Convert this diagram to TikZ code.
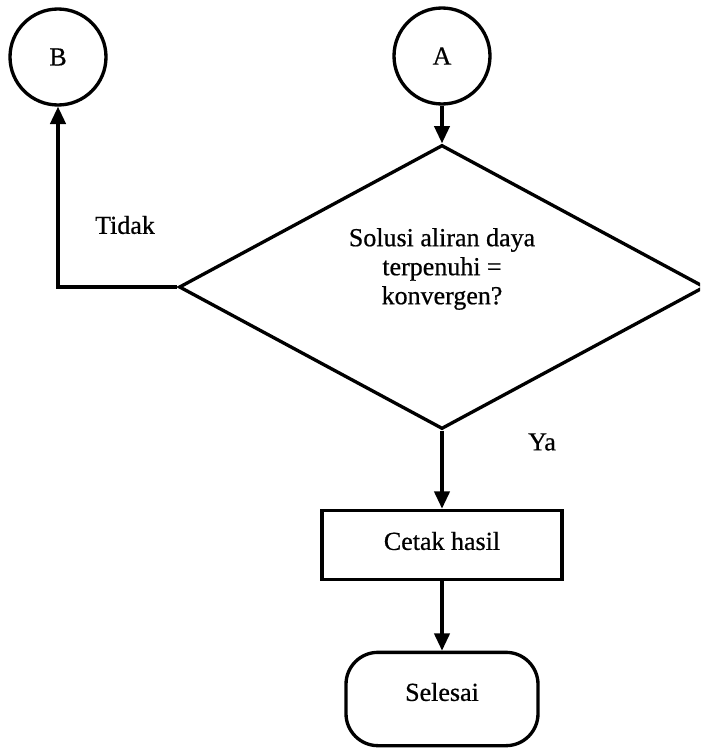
\documentclass[tikz,border=0pt]{standalone}
\usepackage{fontspec}
\setmainfont{Liberation Serif}[FakeBold=0.6]
\usetikzlibrary{shapes.geometric,arrows.meta}
\begin{document}
\begin{tikzpicture}[x=0.75pt,y=-0.75pt,
  every node/.style={font=\fontsize{19.5}{21.75}\selectfont},
  line/.style={line width=2.5pt},
  flow/.style={line, -{Triangle[length=13pt,width=11.5pt]}},
  connector/.style={circle, draw, line, inner sep=0pt, minimum size=72pt},
  decision/.style={diamond, draw, line, inner sep=0pt, minimum width=394.5pt, minimum height=213pt},
  process/.style={rectangle, draw, line, inner sep=0pt, minimum width=180pt, minimum height=52pt},
  terminal/.style={rectangle, draw, line, rounded corners=24pt, inner sep=0pt, minimum width=144pt, minimum height=70pt},
  label/.style={inner sep=0pt}]
\useasboundingbox (0,0) rectangle (700,749);
\clip (0,0) rectangle (700,749);

% connectors
\node[connector] (B) at (58,57) {B};
\node[connector] (A) at (442,56) {A};

% decision
\node[decision] (dec) at (442,287) {};
\node[label, align=center] (dectext) at (442,269) {Solusi aliran daya\\terpenuhi =\\konvergen?};

% process and end
\node[process] (print) at (442,545) {};
\node[label] (printtext) at (442,541) {Cetak hasil};
\node[terminal] (end) at (442,699) {};
\node[label] (endtext) at (442,692) {Selesai};

% branch labels
\node[label] (no) at (125,225) {Tidak};
\node[label] (yes) at (542,442) {Ya};

% flow lines
\draw[flow] (A.south) -- (dec.north);
\draw[flow] (dec.west) -| (B.south);
\draw[flow] (dec.south) -- (print.north);
\draw[flow] (print.south) -- (end.north);
\end{tikzpicture}
\end{document}
